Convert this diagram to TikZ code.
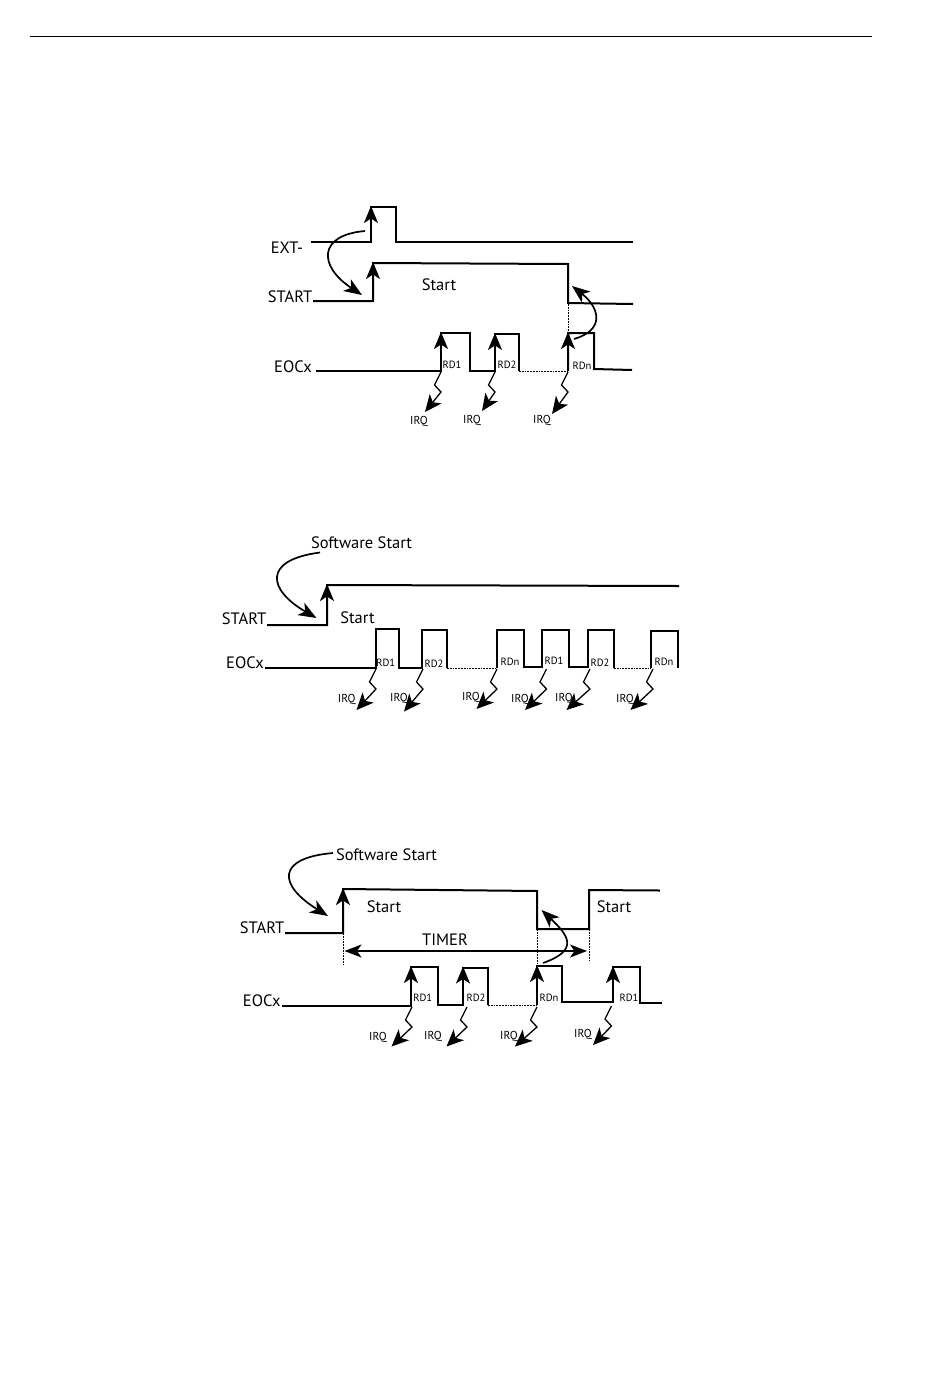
\documentclass[tikz,border=0pt]{standalone}
\usepackage{fontspec}
\setmainfont{PT Sans}
\usetikzlibrary{arrows.meta}
\tikzset{
  wave/.style={line width=2pt,line join=miter,black},
  dots/.style={line width=0.9pt,dash pattern=on 1.8pt off 1pt,black},
  tipped/.style={line width=1.8pt,-{Stealth[length=17pt,width=14pt,inset=4.5pt]}},
  swoop/.style={line width=1.7pt,-{Stealth[length=18pt,width=14pt,inset=5pt]}},
  zapline/.style={line width=1.3pt,-{Stealth[length=17pt,width=15pt,inset=4.5pt]}},
  biglabel/.style={font=\fontsize{16.5pt}{18pt}\selectfont,inner sep=0pt},
  rdlabel/.style={font=\fontsize{10.5pt}{12pt}\selectfont,inner sep=0pt},
  irqlabel/.style={font=\fontsize{11.5pt}{13pt}\selectfont,inner sep=0pt},
}
\newcommand{\riseup}[3]{\draw[tipped] (#1,#2) -- (#1,#3);}
\newcommand{\zapto}[4]{\draw[zapline] (#1,#2) -- ++(-6.5,13) -- ++(6.5,7) -- (#3,#4);}
\begin{document}
\begin{tikzpicture}[x=1pt,y=-1pt]
\useasboundingbox (0,0) rectangle (950,1379);
\fill[white] (0,0) rectangle (950,1379);
\draw[line width=1pt] (30,36) -- (872,36);

% ---------- diagram 1
\node[biglabel] (a-ext) at (287,248) {EXT-};
\node[biglabel] (a-start) at (290,296.5) {START};
\node[biglabel] (a-eoc) at (293,367) {EOCx};
\node[biglabel] (a-st) at (439,285) {Start};
\draw[wave] (311,242) -- (371,242) -- (371,207) -- (396,207) -- (396,242) -- (633,242);
\draw[wave] (313,301) -- (373,301) -- (373,263) -- (568,264) -- (568,303) -- (633,304);
\draw[wave] (316,371) -- (441,371) -- (441,333) -- (470,333) -- (470,371) -- (495,371) -- (495,334) -- (519,334) -- (519,371);
\draw[dots] (519,371) -- (568,371);
\draw[wave] (568,371) -- (568,333) -- (594,333) -- (594,369) -- (632,370);
\draw[dots] (568,304) -- (568,333);
\riseup{371}{240}{206}
\riseup{373}{300}{262}
\riseup{441}{370}{332}
\riseup{495}{370}{333}
\riseup{568}{370}{332}
\draw[swoop] (365,231) .. controls (318,235) and (318,266) .. (362,295);
\draw[swoop] (574,339) .. controls (605,330) and (600,308) .. (572,286);
\zapto{441}{372}{425}{412}
\zapto{495}{372}{482}{411}
\zapto{568}{372}{552}{414}
\node[rdlabel] (a-rd1) at (452,365) {RD1};
\node[rdlabel] (a-rd2) at (507,365) {RD2};
\node[rdlabel] (a-rdn) at (582,366) {RDn};
\node[irqlabel] (a-i1) at (419,421) {IRQ};
\node[irqlabel] (a-i2) at (472,420) {IRQ};
\node[irqlabel] (a-i3) at (542,420) {IRQ};

% ---------- diagram 2
\node[biglabel] (b-sw) at (361.5,543) {Software Start};
\node[biglabel] (b-start) at (244,619) {START};
\node[biglabel] (b-st) at (357.5,618) {Start};
\node[biglabel] (b-eoc) at (245,663) {EOCx};
\draw[wave] (267,625) -- (327,625) -- (327,585) -- (679,586);
\riseup{327}{624}{584}
\draw[swoop] (320,552.5) .. controls (262,560) and (268,590) .. (316.5,618);
\draw[wave] (265,668) -- (376,668) -- (376,629) -- (399,629) -- (399,668) -- (422,668) -- (422,630) -- (447,630) -- (447,668);
\draw[dots] (447,668) -- (497,668);
\draw[wave] (497,668) -- (497,630) -- (524,630) -- (524,667) -- (542,667) -- (542,630) -- (569,630) -- (569,667) -- (588,667) -- (588,630) -- (614,630) -- (614,668);
\draw[dots] (614,668) -- (651,668);
\draw[wave] (651,668) -- (651,631) -- (678,631) -- (678,668);
\zapto{376}{669}{356.5}{710}
\zapto{423}{669}{404}{711.5}
\zapto{497}{669}{476.5}{709}
\zapto{546.5}{669}{525}{710}
\zapto{590}{669}{566.5}{710}
\zapto{653}{669}{630.5}{710}
\node[rdlabel] (b-rd1) at (385.7,663) {RD1};
\node[rdlabel] (b-rd2) at (434,664) {RD2};
\node[rdlabel] (b-rdn) at (510,662) {RDn};
\node[rdlabel] (b-rd1b) at (554,661) {RD1};
\node[rdlabel] (b-rd2b) at (600,663) {RD2};
\node[rdlabel] (b-rdnb) at (664,662) {RDn};
\node[irqlabel] (b-i1) at (346.7,699) {IRQ};
\node[irqlabel] (b-i2) at (399,698) {IRQ};
\node[irqlabel] (b-i3) at (471,697) {IRQ};
\node[irqlabel] (b-i4) at (520,699) {IRQ};
\node[irqlabel] (b-i5) at (564,698) {IRQ};
\node[irqlabel] (b-i6) at (625,699) {IRQ};

% ---------- diagram 3
\node[biglabel] (c-sw) at (386.5,855) {Software Start};
\node[biglabel] (c-start) at (262,928) {START};
\node[biglabel] (c-st) at (384,907) {Start};
\node[biglabel] (c-st2) at (614,907) {Start};
\node[biglabel] (c-timer) at (445,940) {TIMER};
\node[biglabel] (c-eoc) at (261.7,1000.5) {EOCx};
\draw[wave] (285,933) -- (343,933) -- (343,889) -- (537,891) -- (537,929) -- (589,929) -- (589,890) -- (660,890.5);
\riseup{343}{932}{888}
\draw[swoop] (333,853) .. controls (276,858) and (278,885) .. (328,916);
\draw[dots] (343,933) -- (343,964);
\draw[dots] (537,929) -- (537,967);
\draw[dots] (589,929) -- (589,960);
\draw[line width=1.7pt,{Stealth[length=17pt,width=13pt,inset=4.5pt]}-{Stealth[length=17pt,width=13pt,inset=4.5pt]}] (344.5,951) -- (587,951);
\draw[wave] (282,1006) -- (411,1006) -- (411,967) -- (438,967) -- (438,1005) -- (463,1005) -- (463,968) -- (488,968) -- (488,1005);
\draw[dots] (488,1005) -- (537,1005);
\draw[wave] (537,1005) -- (537,966) -- (562,966) -- (562,1002) -- (613,1002) -- (613,967) -- (640,967) -- (640,1003) -- (662,1003);
\riseup{411}{1004}{966}
\riseup{463}{1004}{966.5}
\riseup{537}{1004}{965}
\riseup{613}{1000}{966}
\draw[swoop] (543,963) .. controls (580,950) and (568,935) .. (541.5,910);
\zapto{412}{1007}{391.5}{1046.5}
\zapto{467}{1007}{446.5}{1046.5}
\zapto{537}{1007}{515}{1046.5}
\zapto{611.5}{1006}{593}{1045}
\node[rdlabel] (c-rd1) at (422.7,998) {RD1};
\node[rdlabel] (c-rd2) at (476,998) {RD2};
\node[rdlabel] (c-rdn) at (549,998) {RDn};
\node[rdlabel] (c-rd1b) at (629,998) {RD1};
\node[irqlabel] (c-i1) at (378,1037) {IRQ};
\node[irqlabel] (c-i2) at (433,1036) {IRQ};
\node[irqlabel] (c-i3) at (509,1036) {IRQ};
\node[irqlabel] (c-i4) at (583,1034) {IRQ};
\end{tikzpicture}
\end{document}
